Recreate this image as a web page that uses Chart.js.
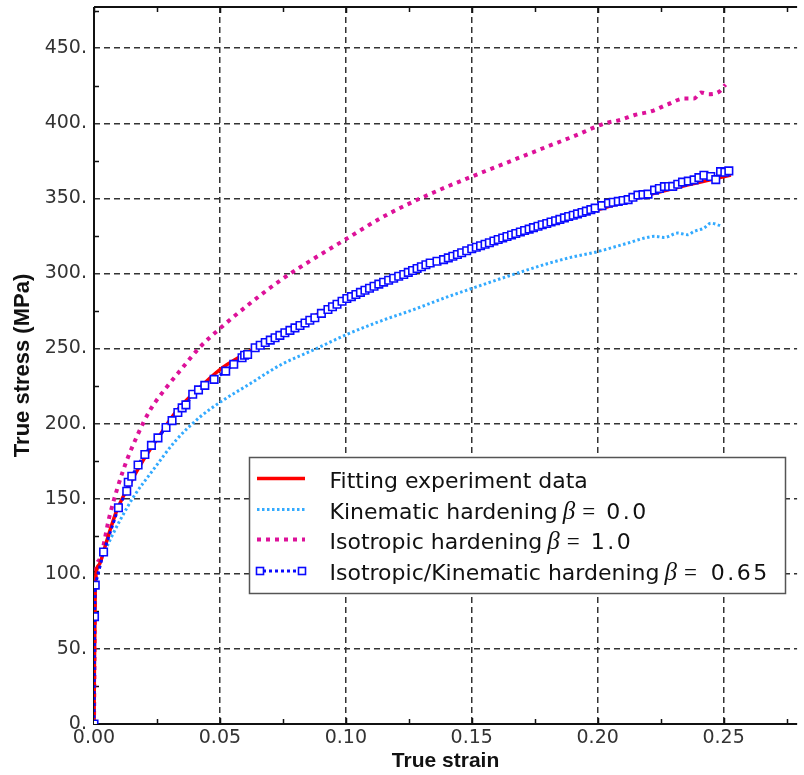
<!DOCTYPE html>
<html><head><meta charset="utf-8">
<script src="https://cdn.jsdelivr.net/npm/chart.js@4.4.1/dist/chart.umd.min.js"></script>
<style>html,body{margin:0;padding:0;background:#fff;}#wrap{width:804px;height:775px;position:relative;}</style>
</head><body><div id="wrap"><canvas id="c" width="804" height="775"></canvas></div>
<script>
// ---- tick values ----
const xTicks = [0, 0.05, 0.10, 0.15, 0.20, 0.25];
const yTicks = [0, 50, 100, 150, 200, 250, 300, 350, 400, 450];
const xMinorTicks = [0.025, 0.075, 0.125, 0.175, 0.225, 0.275];
const yMinorTicks = [25, 75, 125, 175, 225, 275, 325, 375, 425, 475];

// ---- series: Fitting experiment data ----
const fitStrain = [0, 0.0005, 0.002, 0.004, 0.006, 0.009, 0.013, 0.0195, 0.026, 0.0326, 0.042, 0.05, 0.06, 0.07, 0.08, 0.09, 0.10, 0.115, 0.13, 0.14, 0.15, 0.165, 0.18, 0.20, 0.215, 0.23, 0.24, 0.2529];
const fitStress = [0, 94, 106, 116, 127, 142, 156, 175.5, 192, 208, 224, 236, 246.5, 256, 265, 274, 282.5, 294, 304.5, 310.8, 317, 325.5, 333.5, 342.5, 350, 356.5, 360.5, 365.5];

// ---- series: Kinematic hardening beta = 0.0 ----
const kinStrain = [0, 0.0005, 0.0012, 0.0038, 0.0065, 0.0103, 0.0156, 0.0234, 0.0326, 0.0418, 0.0503, 0.0614, 0.0745, 0.0877, 0.1004, 0.1138, 0.127, 0.140, 0.15, 0.165, 0.18, 0.19, 0.20, 0.2030, 0.2121, 0.2187, 0.2226, 0.2265, 0.2318, 0.2357, 0.2383, 0.2422, 0.2449, 0.2475, 0.2494];
const kinStress = [0, 90, 102, 113, 123, 135.5, 151, 169, 189, 204, 214.5, 226, 239.5, 249.5, 259.4, 268.3, 276, 284.2, 290, 298.5, 306.5, 311, 314.5, 315.9, 320.3, 323.6, 324.7, 324, 326.9, 325.8, 328, 330.2, 333.5, 332.5, 331.3];

// ---- series: Isotropic hardening beta = 1.0 ----
const isoStrain = [0, 0.0005, 0.002, 0.0064, 0.0116, 0.0169, 0.0221, 0.0287, 0.0352, 0.0418, 0.0503, 0.0614, 0.0745, 0.0877, 0.1004, 0.1138, 0.127, 0.1388, 0.15, 0.165, 0.18, 0.19, 0.203, 0.2089, 0.2147, 0.2213, 0.2278, 0.2344, 0.2383, 0.241, 0.2442, 0.2482, 0.2508];
const isoStress = [0, 95, 109, 140, 169, 191, 208.5, 224, 237.3, 250.5, 263.8, 279.3, 296, 310.3, 323.2, 336.8, 348, 356.8, 364.5, 374.5, 384.5, 391, 400, 402.2, 405.5, 408, 412.6, 416.5, 416.5, 420.5, 419.4, 421, 425.8];

// ---- series: Isotropic/Kinematic hardening beta = 0.65 ----
const mixStrain = [0, 0.0002, 0.0005, 0.0038, 0.0097, 0.013, 0.0136, 0.015, 0.0175, 0.0202, 0.0228, 0.0254, 0.0286, 0.031, 0.0333, 0.035, 0.0365, 0.0392, 0.0415, 0.044, 0.0477, 0.0523, 0.0555, 0.0588, 0.0598, 0.061, 0.064, 0.066, 0.068, 0.070, 0.0719, 0.0738, 0.0758, 0.0778, 0.0798, 0.0818, 0.0838, 0.0857, 0.0877, 0.0903, 0.0929, 0.0947, 0.0965, 0.0985, 0.1004, 0.1022, 0.104, 0.1058, 0.1076, 0.1094, 0.1112, 0.1131, 0.115, 0.117, 0.119, 0.121, 0.123, 0.1248, 0.1265, 0.1283, 0.13, 0.1318, 0.1335, 0.1362, 0.1388, 0.1407, 0.1425, 0.1443, 0.146, 0.148, 0.15, 0.1518, 0.1535, 0.1553, 0.157, 0.1588, 0.1605, 0.1623, 0.164, 0.1658, 0.1675, 0.1693, 0.171, 0.1728, 0.1745, 0.1763, 0.178, 0.1798, 0.1815, 0.1833, 0.185, 0.1868, 0.1885, 0.1903, 0.192, 0.1938, 0.1955, 0.1973, 0.199, 0.2017, 0.2043, 0.2062, 0.2082, 0.2101, 0.2121, 0.214, 0.216, 0.218, 0.22, 0.2226, 0.2245, 0.2265, 0.2282, 0.2298, 0.2318, 0.2337, 0.236, 0.2383, 0.2402, 0.2422, 0.2449, 0.2469, 0.2488, 0.2505, 0.2521];
const mixStress = [0, 71.5, 92.5, 114.5, 144, 155, 161, 165, 172.5, 179.5, 185.5, 190.5, 197.4, 202, 207.4, 210.5, 212.5, 219.6, 222.5, 225.5, 229.5, 235, 239.5, 243.9, 245.5, 246, 250.5, 252.2, 254, 255.6, 257.2, 258.8, 260.5, 262.1, 263.8, 265.4, 267, 268.8, 270.5, 273.4, 276, 277.8, 279.5, 281.5, 283.3, 284.6, 286, 287.4, 288.8, 290.2, 291.5, 292.9, 294.2, 295.5, 296.8, 298.1, 299.3, 300.7, 302, 303.3, 304.5, 305.8, 307, 308.1, 309.2, 310.4, 311.5, 312.6, 313.8, 315.1, 316.5, 317.5, 318.5, 319.5, 320.5, 321.6, 322.6, 323.6, 324.6, 325.6, 326.6, 327.6, 328.6, 329.5, 330.5, 331.4, 332.4, 333.3, 334.3, 335.1, 336, 337, 337.9, 338.8, 339.7, 340.6, 341.5, 342.5, 343.5, 345.2, 346.8, 347.4, 348, 348.6, 349.2, 350.7, 352.2, 352.5, 352.8, 355.5, 356.6, 357.8, 357.9, 358, 359.4, 360.8, 361.5, 362.3, 363.8, 365.4, 364.6, 362.5, 367.8, 367.4, 368.3];

const seriesNames = ['Fitting experiment data', 'Kinematic hardening', 'Isotropic hardening', 'Isotropic/Kinematic hardening'];
const betaValues = [null, '0.0', '1.0', '0.65'];

const pts = (xs, ys) => xs.map((x, i) => ({x: x, y: ys[i]}));

const RED = '#ff0000', LBLUE = '#33aaff', PINK = '#dd1199', BLUE = '#0a0aff';

const datasets = [
  {label: seriesNames[3], data: pts(mixStrain, mixStress), borderColor: BLUE, borderWidth: 3, borderDash: [3, 3],
   pointStyle: 'rect', pointRadius: 5.3, pointBorderWidth: 1.6, pointBorderColor: BLUE, pointBackgroundColor: '#ffffff', tension: 0, order: 0},
  {label: seriesNames[0], data: pts(fitStrain, fitStress), borderColor: RED, borderWidth: 3.5, pointRadius: 0, cubicInterpolationMode: 'monotone', order: 1},
  {label: seriesNames[2], data: pts(isoStrain, isoStress), borderColor: PINK, borderWidth: 4, borderDash: [4, 5], pointRadius: 0, cubicInterpolationMode: 'monotone', order: 2},
  {label: seriesNames[1], data: pts(kinStrain, kinStress), borderColor: LBLUE, borderWidth: 3, borderDash: [2.5, 2.5], pointRadius: 0, cubicInterpolationMode: 'monotone', order: 3}
];

const framePlugin = {
  id: 'frame',
  beforeDatasetsDraw(chart) {
    const {ctx, chartArea: a, scales: {x, y}} = chart;
    ctx.save();
    ctx.setLineDash([]);
    ctx.strokeStyle = '#111';
    ctx.lineWidth = 2;
    ctx.beginPath();
    ctx.moveTo(a.left, a.top); ctx.lineTo(a.right, a.top);
    ctx.moveTo(a.left, a.top); ctx.lineTo(a.left, a.bottom); ctx.lineTo(a.right, a.bottom);
    ctx.stroke();
    ctx.lineWidth = 1.5;
    ctx.beginPath();
    xMinorTicks.forEach(v => {
      const px = Math.round(x.getPixelForValue(v)) + 0.5;
      ctx.moveTo(px, a.bottom); ctx.lineTo(px, a.bottom - 5);
      ctx.moveTo(px, a.top); ctx.lineTo(px, a.top + 5);
    });
    xTicks.forEach(v => {
      const px = Math.round(x.getPixelForValue(v)) + 0.5;
      ctx.moveTo(px, a.top); ctx.lineTo(px, a.top + 6);
      ctx.moveTo(px, a.bottom); ctx.lineTo(px, a.bottom - 6);
    });
    yMinorTicks.forEach(v => {
      const py = Math.round(y.getPixelForValue(v)) + 0.5;
      ctx.moveTo(a.left, py); ctx.lineTo(a.left + 5, py);
    });
    ctx.stroke();
    ctx.restore();
  }
};

const legendPlugin = {
  id: 'customLegend',
  afterDraw(chart) {
    const ctx = chart.ctx;
    ctx.save();
    const bx = 249, by = 457, bw = 536, bh = 136;
    ctx.fillStyle = '#fff';
    ctx.fillRect(bx, by, bw, bh);
    ctx.strokeStyle = '#555';
    ctx.lineWidth = 1.5;
    ctx.setLineDash([]);
    ctx.strokeRect(bx + 0.5, by + 0.5, bw, bh);
    const baselines = [488, 518.5, 549, 579.5];
    const sampleY = [478.5, 509.5, 539.5, 571];
    const styles = [datasets[1], datasets[3], datasets[2], datasets[0]];
    const x0 = 257, x1 = 305, tx = 329.5;
    for (let i = 0; i < 4; i++) {
      const s = styles[i];
      ctx.save();
      ctx.strokeStyle = s.borderColor;
      ctx.lineWidth = s.borderWidth;
      ctx.setLineDash(s.borderDash || []);
      ctx.beginPath();
      ctx.moveTo(x0 + (i === 3 ? 6 : 0), sampleY[i]);
      ctx.lineTo(x1 - (i === 3 ? 6 : 0), sampleY[i]);
      ctx.stroke();
      if (i === 3) {
        ctx.setLineDash([]);
        ctx.lineWidth = 1.6;
        ctx.fillStyle = '#fff';
        [x0 + 3, x1 - 3].forEach(px => {
          ctx.fillRect(px - 3.5, sampleY[i] - 3.5, 7, 7);
          ctx.strokeRect(px - 3.5, sampleY[i] - 3.5, 7, 7);
        });
      }
      ctx.restore();
      ctx.fillStyle = '#111';
      ctx.textBaseline = 'alphabetic';
      ctx.font = '22px "DejaVu Sans"';
      ctx.fillText(seriesNames[i], tx, baselines[i]);
      if (betaValues[i]) {
        let cx = tx + ctx.measureText(seriesNames[i]).width + 5;
        ctx.font = 'italic 25px "Liberation Serif"';
        ctx.fillText('\u03B2', cx, baselines[i]);
        cx += ctx.measureText('\u03B2').width + 7;
        ctx.font = '23px "Liberation Serif"';
        ctx.fillText('=', cx, baselines[i]);
        cx += ctx.measureText('=').width + (i === 3 ? 14 : 11);
        ctx.font = '22px "DejaVu Sans"';
        ctx.letterSpacing = '2.5px';
        ctx.fillText(betaValues[i], cx, baselines[i]);
        ctx.letterSpacing = '0px';
      }
    }
    ctx.restore();
  }
};

new Chart(document.getElementById('c'), {
  type: 'line',
  data: {datasets: datasets},
  plugins: [framePlugin, legendPlugin],
  options: {
    responsive: false,
    animation: false,
    devicePixelRatio: 1,
    layout: {padding: {top: 5, left: 0, right: 0, bottom: 0}},
    plugins: {legend: {display: false}, tooltip: {enabled: false}},
    scales: {
      x: {
        type: 'linear', min: 0, max: 0.2792,
        afterBuildTicks: s => { s.ticks = xTicks.map(v => ({value: v})); },
        afterFit: s => { s.height = 51; s.paddingLeft = 0; s.paddingRight = 0; },
        ticks: {callback: v => Number(v).toFixed(2), font: {family: 'DejaVu Sans', size: 19}, color: '#333', padding: 3, maxRotation: 0, autoSkip: false},
        grid: {color: '#333', lineWidth: 1.5, drawTicks: false},
        border: {display: false, dash: [6, 4]},
        title: {display: true, text: 'True strain', color: '#111', font: {family: 'Liberation Sans', size: 21, weight: 'bold'}, padding: {top: 0, bottom: 1}}
      },
      y: {
        type: 'linear', min: 0, max: 477.5,
        afterBuildTicks: s => { s.ticks = yTicks.map(v => ({value: v})); },
        afterFit: s => { s.width = 94; s.paddingTop = 0; s.paddingBottom = 0; },
        ticks: {callback: v => v + '.', font: {family: 'DejaVu Sans', size: 19}, color: '#333', padding: 7, autoSkip: false},
        grid: {color: '#333', lineWidth: 1.5, drawTicks: false},
        border: {display: false, dash: [6, 4]},
        title: {display: true, text: 'True stress (MPa)', color: '#111', font: {family: 'Liberation Sans', size: 22, weight: 'bold'}, padding: {top: 10, bottom: 0}}
      }
    }
  }
});
</script>
</body></html>
